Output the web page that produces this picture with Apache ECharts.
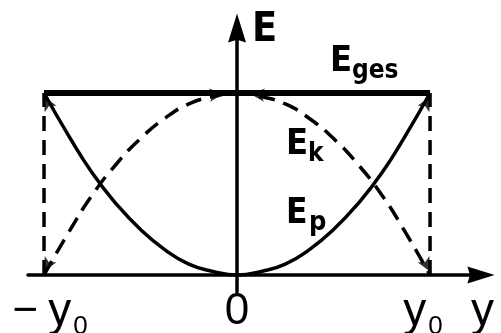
<!DOCTYPE html>
<html>
<head>
<meta charset="UTF-8">
<title>Energie</title>
<script src="https://cdn.jsdelivr.net/npm/echarts@6/dist/echarts.min.js"></script>
<style>html, body { margin: 0; padding: 0; background: #fff; }</style>
</head>
<body>
<div id="main" style="width: 501px; height: 333px;"></div>
<script>
// Auslenkung y in Einheiten von y0
var posY = [-1, -0.875, -0.75, -0.625, -0.5, -0.375, -0.25, -0.125, 0, 0.125, 0.25, 0.375, 0.5, 0.625, 0.75, 0.875, 1];
// potentielle Energie Ep (durchgezogen)
var ePot = [1, 0.77, 0.56, 0.39, 0.25, 0.14, 0.06, 0.02, 0, 0.02, 0.06, 0.14, 0.25, 0.39, 0.56, 0.77, 1];
// kinetische Energie Ek (gestrichelt)
var eKin = [0, 0.23, 0.44, 0.61, 0.75, 0.86, 0.94, 0.98, 1, 0.98, 0.94, 0.86, 0.75, 0.61, 0.44, 0.23, 0];
// Gesamtenergie Eges
var gesX = [-1, 1];
var gesVal = [1, 1];
// gestrichelte Senkrechte bei -y0 und y0
var borderX = [-1, 1];
// Achsenbeschriftung
var tickValues = [-1, 0, 1];
var tickLabels = ['{m|−}{y|y}{s|0}', '{z|0}', '{y|y}{s|0}{pr|}'];
// Pfeilspitzen an den Kurvenenden: x, E, Drehung (Grad)
var arrowX = [-1, 1, -1, 1, -0.07, 0.07];
var arrowE = [0.02, 0.02, 0.98, 0.98, 0.995, 0.995];
var arrowRot = [152, 208, 28, -28, -85, 85];

var chart = echarts.init(document.getElementById('main'), null, { renderer: 'canvas' });

var black = '#000';
var font = '"DejaVu Sans Condensed", "Liberation Sans", sans-serif';

function pairs(xs, ys) {
    return xs.map(function (x, i) { return [x, ys[i]]; });
}

var series = [
    {
        name: 'Ep', type: 'line', smooth: true, symbol: 'none',
        data: pairs(posY, ePot),
        lineStyle: { color: black, width: 3.5 }
    },
    {
        name: 'Ek', type: 'line', smooth: true, symbol: 'none',
        data: pairs(posY, eKin),
        lineStyle: { color: black, width: 3.5, type: [16, 9] }
    },
    {
        name: 'Eges', type: 'line', symbol: 'none',
        data: pairs(gesX, gesVal),
        lineStyle: { color: black, width: 6 }
    }
];
borderX.forEach(function (x) {
    series.push({
        type: 'line', symbol: 'none',
        data: [[x, 0], [x, 1]],
        lineStyle: { color: black, width: 3.5, type: [15, 9] }
    });
});
series.push({
    type: 'scatter',
    symbol: 'arrow',
    symbolSize: [10, 14],
    itemStyle: { color: black },
    data: arrowX.map(function (x, i) {
        return { value: [x, arrowE[i]], symbolRotate: arrowRot[i] };
    })
});

var option = {
    animation: false,
    grid: { left: 28, right: 20, top: 28, bottom: 41, outerBoundsMode: 'none', containLabel: false },
    xAxis: {
        type: 'value',
        min: -1.083,
        max: 1.264,
        splitLine: { show: false },
        axisLine: {
            onZero: true,
            symbol: ['none', 'path://M5,0 L10,16 L5,14.5 L0,16 Z'],
            symbolSize: [17, 32],
            lineStyle: { color: black, width: 3.5 }
        },
        axisTick: { show: false },
        axisLabel: {
            customValues: tickValues,
            margin: 0,
            formatter: function (v) {
                return tickLabels[tickValues.indexOf(v)] || '';
            },
            rich: {
                m: { fontFamily: 'Liberation Sans', fontSize: 44, color: black, lineHeight: 40, padding: [0, 10, 0, 12] },
                y: { fontFamily: 'Liberation Sans', fontSize: 46, color: black, lineHeight: 40 },
                s: { fontFamily: 'Liberation Sans', fontSize: 26, color: black, verticalAlign: 'bottom', lineHeight: 20, padding: [0, 0, -8, 2] },
                z: { fontFamily: 'Liberation Sans', fontSize: 44, color: black, lineHeight: 40 },
                pr: { width: 14 }
            }
        },
        name: 'y',
        nameLocation: 'end',
        nameGap: -10,
        nameTextStyle: { fontFamily: 'Liberation Sans', fontSize: 46, color: black, verticalAlign: 'top', padding: [14, 0, 0, 0] }
    },
    yAxis: {
        type: 'value',
        min: -0.093,
        max: 1.357,
        splitLine: { show: false },
        axisLine: {
            symbol: ['none', 'path://M5,0 L10,16 L5,14.5 L0,16 Z'],
            symbolSize: [18, 32],
            lineStyle: { color: black, width: 3.5 }
        },
        axisTick: { show: false },
        axisLabel: { show: false }
    },
    graphic: [
        { type: 'text', left: 252, top: 10, style: { text: 'E', font: 'bold 41px ' + font, fill: black } },
        { type: 'text', left: 330, top: 44, style: { text: 'E', font: 'bold 36px ' + font, fill: black } },
        { type: 'text', left: 352, top: 58, style: { text: 'ges', font: 'bold 26px ' + font, fill: black } },
        { type: 'text', left: 286, top: 127, style: { text: 'E', font: 'bold 36px ' + font, fill: black } },
        { type: 'text', left: 308, top: 141, style: { text: 'k', font: 'bold 26px ' + font, fill: black } },
        { type: 'text', left: 286, top: 196, style: { text: 'E', font: 'bold 35px ' + font, fill: black } },
        { type: 'text', left: 309, top: 209, style: { text: 'p', font: 'bold 27px ' + font, fill: black } }
    ],
    series: series
};

chart.setOption(option);
</script>
</body>
</html>
